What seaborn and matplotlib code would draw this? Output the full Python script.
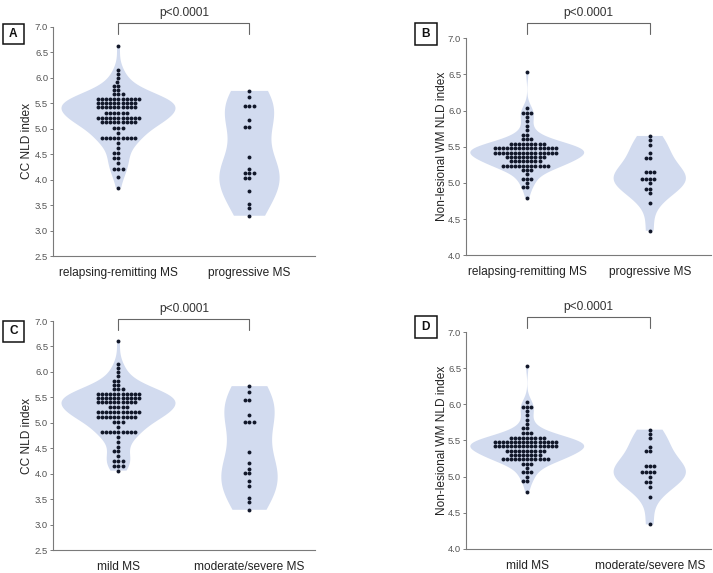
import numpy as np
import pandas as pd
import matplotlib
matplotlib.use("Agg")
import matplotlib.pyplot as plt
import matplotlib.transforms as mtransforms
from matplotlib.patches import Rectangle
import seaborn as sns

# ---------------- data (with counts per dot row) -------------
a_rr_vals = [6.62, 6.15, 6.07, 5.99, 5.91, 5.84, 5.76, 5.67, 5.58, 5.50, 5.42, 5.31, 5.21,
             5.12, 5.01, 4.92, 4.82, 4.72, 4.62, 4.52, 4.42, 4.32, 4.21, 4.06, 3.84]
a_rr_cnts = [1, 1, 1, 1, 1, 2, 2, 3, 11, 10, 10, 6, 11, 9, 3, 1, 9, 1, 1, 2, 2, 1, 3, 1, 1]
a_pr_vals = [5.74, 5.63, 5.44, 5.17, 5.03, 4.45, 4.20, 4.12, 4.03, 3.78, 3.53, 3.44, 3.29]
a_pr_cnts = [1, 1, 3, 1, 2, 1, 1, 3, 2, 1, 1, 1, 1]

b_rr_vals = [6.53, 6.03, 5.97, 5.91, 5.85, 5.79, 5.73, 5.67, 5.61, 5.54, 5.48, 5.42, 5.36,
             5.30, 5.24, 5.18, 5.12, 5.06, 5.00, 4.94, 4.79]
b_rr_cnts = [1, 1, 3, 1, 1, 1, 1, 2, 3, 9, 16, 16, 10, 8, 12, 3, 1, 3, 1, 2, 1]
b_pr_vals = [5.65, 5.59, 5.53, 5.41, 5.35, 5.15, 5.06, 5.00, 4.92, 4.86, 4.72, 4.34]
b_pr_cnts = [1, 1, 1, 1, 2, 3, 4, 1, 2, 1, 1, 1]

c_mi_vals = [6.61, 6.15, 6.07, 5.99, 5.91, 5.83, 5.75, 5.67, 5.57, 5.49, 5.40, 5.31, 5.21,
             5.12, 5.02, 4.92, 4.82, 4.73, 4.63, 4.53, 4.44, 4.34, 4.24, 4.16, 4.06]
c_mi_cnts = [1, 1, 1, 1, 1, 2, 2, 3, 11, 11, 10, 5, 11, 10, 3, 1, 9, 1, 1, 1, 2, 1, 3, 3, 1]
c_ms_vals = [5.72, 5.61, 5.45, 5.16, 5.02, 4.43, 4.20, 4.10, 4.01, 3.86, 3.75, 3.52, 3.44, 3.29]
c_ms_cnts = [1, 1, 2, 1, 3, 1, 1, 1, 2, 1, 1, 1, 1, 1]

d_mi_vals = [6.53, 6.03, 5.97, 5.91, 5.85, 5.79, 5.73, 5.67, 5.61, 5.54, 5.48, 5.42, 5.36,
             5.30, 5.24, 5.18, 5.12, 5.06, 5.00, 4.94, 4.79]
d_mi_cnts = [1, 1, 3, 1, 1, 1, 1, 2, 3, 9, 16, 16, 10, 8, 12, 3, 1, 3, 1, 2, 1]
d_ms_vals = [5.65, 5.59, 5.53, 5.41, 5.35, 5.15, 5.06, 5.00, 4.92, 4.86, 4.72, 4.34]
d_ms_cnts = [1, 1, 1, 1, 2, 3, 4, 1, 2, 1, 1, 1]

cats_ab = ["relapsing-remitting MS", "progressive MS"]
cats_cd = ["mild MS", "moderate/severe MS"]
ylab_ac = "CC NLD index"
ylab_bd = "Non-lesional WM NLD index"
p_text = "p<0.0001"

# ---------------- style ----------------
sns.set_theme(style="white")
plt.rcParams['font.family'] = ['Liberation Sans', 'DejaVu Sans']

VIOLIN = "#d2dbef"
DOT = "#111729"
GREY = "#7a7a7a"

W, H = 713, 573
fig = plt.figure(figsize=(W / 100, H / 100), dpi=100)


def px_rect(l, r, top, bot):
    return [l / W, 1 - bot / H, (r - l) / W, (bot - top) / H]


panels = [
    dict(rect=px_rect(53, 315, 26.7, 256), cats=cats_ab, g1=(a_rr_vals, a_rr_cnts),
         g2=(a_pr_vals, a_pr_cnts), ylim=(2.5, 7.0), ylab=ylab_ac, letter="A",
         box=(3, 24, 24, 44), br=(14, 3.4, -7.6), widths=(0.87, 0.46), lpad=1.5),
    dict(rect=px_rect(466, 711, 38.3, 255.3), cats=cats_ab, g1=(b_rr_vals, b_rr_cnts),
         g2=(b_pr_vals, b_pr_cnts), ylim=(4.0, 7.0), ylab=ylab_bd, letter="B",
         box=(415, 437, 23, 45), br=(25, 15, 4), widths=(0.93, 0.59), lpad=0.0),
    dict(rect=px_rect(53, 315, 321, 550), cats=cats_cd, g1=(c_mi_vals, c_mi_cnts),
         g2=(c_ms_vals, c_ms_cnts), ylim=(2.5, 7.0), ylab=ylab_ac, letter="C",
         box=(3, 24, 321, 342), br=(12, 1.7, -9), widths=(0.87, 0.43), lpad=1.5),
    dict(rect=px_rect(466, 711, 332, 549), cats=cats_cd, g1=(d_mi_vals, d_mi_cnts),
         g2=(d_ms_vals, d_ms_cnts), ylim=(4.0, 7.0), ylab=ylab_bd, letter="D",
         box=(415, 437, 316, 338), br=(25, 15, 4), widths=(0.93, 0.59), lpad=0.0),
]

for p in panels:
    ax = fig.add_axes(p["rect"])
    v1 = np.repeat(p["g1"][0], p["g1"][1])
    v2 = np.repeat(p["g2"][0], p["g2"][1])
    df = pd.DataFrame({"group": [p["cats"][0]] * len(v1) + [p["cats"][1]] * len(v2),
                       "value": np.concatenate([v1, v2])})
    for cat, wd in zip(p["cats"], p["widths"]):
        sns.violinplot(data=df[df["group"] == cat], x="group", y="value", order=p["cats"],
                       inner=None, cut=0, color=VIOLIN, saturation=1, linewidth=0,
                       width=wd, bw_adjust=1.0, ax=ax)
    for c in ax.collections:
        c.set_edgecolor("none")
    sns.swarmplot(data=df, x="group", y="value", order=p["cats"], color=DOT, size=2.8,
                  linewidth=0, ax=ax)
    ax.set_xlim(-0.5, 1.5)
    lo, hi = p["ylim"]
    ax.set_ylim(lo, hi)
    ax.set_yticks(np.arange(lo, hi + 0.01, 0.5))
    ax.set_yticklabels([f"{t:.1f}" for t in np.arange(lo, hi + 0.01, 0.5)])
    ax.set_xlabel("")
    ax.set_ylabel(p["ylab"], fontsize=8.6, color="#222222", labelpad=p["lpad"])
    ax.tick_params(axis="y", length=2.5, width=0.7, color=GREY, labelsize=6.8,
                   labelcolor="#555555", pad=1, left=True)
    ax.tick_params(axis="x", length=0, labelsize=8.6, labelcolor="#222222", pad=8)
    for s in ["top", "right"]:
        ax.spines[s].set_visible(False)
    for s in ["left", "bottom"]:
        ax.spines[s].set_color(GREY)
        ax.spines[s].set_linewidth(0.8)
    ax.set_facecolor("none")

    # significance bracket (offsets in pixels relative to the axes top)
    ax_h = p["rect"][3] * H
    trans = mtransforms.blended_transform_factory(ax.transData, ax.transAxes)
    t_off, b_off, d_off = p["br"]
    yb = 1 + b_off / ax_h
    yd = 1 + d_off / ax_h
    ax.plot([0, 0, 1, 1], [yd, yb, yb, yd], color="#666666", lw=0.8, transform=trans,
            clip_on=False)
    ax.text(0.5, 1 + t_off / ax_h, p_text, transform=trans, ha="center", va="center",
            fontsize=8.6, color="#333333")

    # panel letter in a box
    l, r, t, b = p["box"]
    fig.patches.append(Rectangle((l / W, 1 - b / H), (r - l) / W, (b - t) / H,
                                 transform=fig.transFigure, fill=False,
                                 edgecolor="#111111", linewidth=1.1))
    fig.text((l + r) / 2 / W, 1 - (t + b) / 2 / H, p["letter"], ha="center", va="center",
             fontsize=8.6, fontweight="bold", color="#111111")

fig.savefig("out.png", dpi=100, facecolor="white")
